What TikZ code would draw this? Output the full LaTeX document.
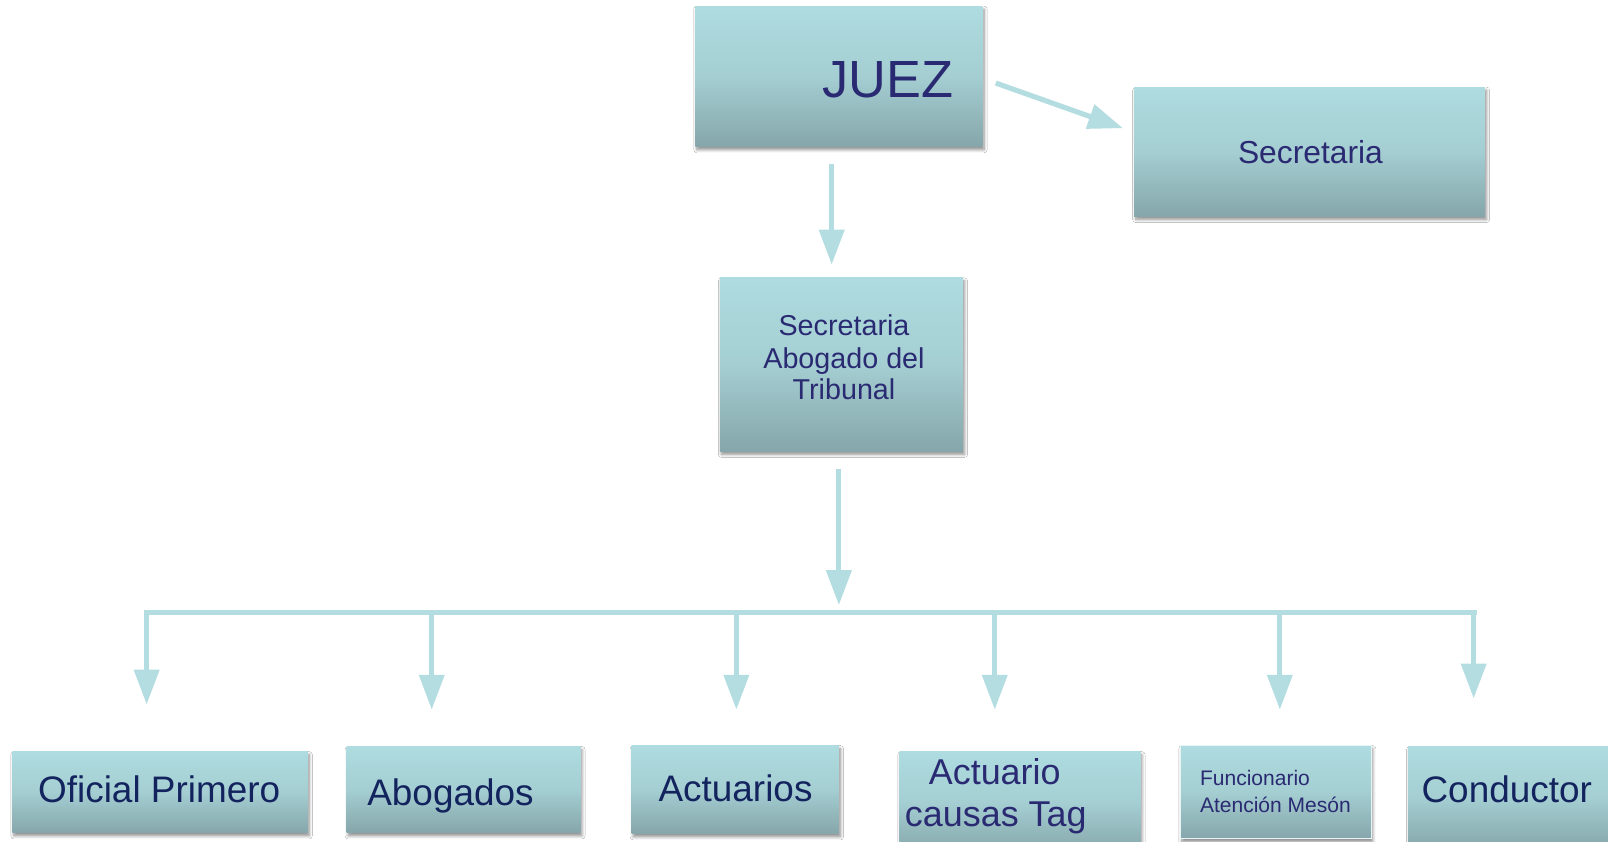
\documentclass[tikz,border=0pt]{standalone}
\usepackage{fontspec}
\setmainfont{Liberation Sans}
\usetikzlibrary{arrows.meta,shadows.blur}
\definecolor{boxtop}{HTML}{AEDCE0}
\definecolor{boxmid}{HTML}{A4CED2}
\definecolor{boxbot}{HTML}{85A6AA}
\definecolor{arrowc}{HTML}{B4DDE1}
\definecolor{txtA}{HTML}{2A2A72}
\definecolor{txtB}{HTML}{13235E}
\tikzset{
  box/.style={rectangle, inner sep=0pt, outer sep=0pt, anchor=north west,
    top color=boxtop, bottom color=boxbot, middle color=boxmid,
    blur shadow={shadow xshift=1.5pt, shadow yshift=-3pt, shadow blur radius=3pt, shadow blur steps=6, shadow opacity=45}},
  arr/.style={draw=arrowc, line width=5pt, -{Triangle[width=24pt,length=34pt]}},
  busline/.style={draw=arrowc, line width=5pt},
  txta/.style={inner sep=0pt, text=txtA},
  txtb/.style={inner sep=0pt, text=txtB},
}
\begin{document}
\begin{tikzpicture}[x=1pt,y=-1pt]
\useasboundingbox (0,0) rectangle (1568,821);
\fill[white] (0,0) rectangle (1568,821);
% boxes
\node[box, minimum width=280pt, minimum height=137pt] (juez) at (678,6) {};
\node[box, minimum width=342pt, minimum height=126pt] (secr) at (1106,85) {};
\node[box, minimum width=237pt, minimum height=169pt] (sab) at (702,271) {};
\node[box, minimum width=288pt, minimum height=79pt] (ofi) at (12,733) {};
\node[box, minimum width=228pt, minimum height=84pt] (abo) at (338,728) {};
\node[box, minimum width=202pt, minimum height=86pt] (act) at (616,727) {};
\node[box, minimum width=235pt, minimum height=100pt] (tag) at (877,733) {};
\node[box, minimum width=186pt, minimum height=91pt, draw=white!70!boxtop, line width=0.8pt] (fun) at (1151,727) {};
\node[box, minimum width=200pt, minimum height=100pt] (con) at (1373,728) {};
% texts
\node[txta, anchor=base west, font=\fontsize{51}{58}\selectfont] (tjuez) at (802,95) {JUEZ};
\node[txta, anchor=base west, font=\fontsize{31}{36}\selectfont] (tsecr) at (1207,159) {Secretaria};
\node[txta, anchor=base, font=\fontsize{28}{32}\selectfont] (tsab1) at (823,327) {Secretaria};
\node[txta, anchor=base, font=\fontsize{28}{32}\selectfont] (tsab2) at (823,359) {Abogado del};
\node[txta, anchor=base, font=\fontsize{28}{32}\selectfont] (tsab3) at (823,390) {Tribunal};
\node[txtb, anchor=base west, font=\fontsize{36}{41}\selectfont] (tofi) at (37,783) {Oficial Primero};
\node[txtb, anchor=base west, font=\fontsize{36}{41}\selectfont] (tabo) at (358,785) {Abogados};
\node[txtb, anchor=base west, font=\fontsize{36}{41}\selectfont] (tact) at (642,782) {Actuarios};
\node[txta, anchor=base, font=\fontsize{35}{41}\selectfont] (ttag1) at (970,765) {Actuario};
\node[txta, anchor=base, font=\fontsize{35}{41}\selectfont] (ttag2) at (971,806) {causas Tag};
\node[txta, anchor=base west, font=\fontsize{20.5}{26}\selectfont] (tfun1) at (1170,766) {Funcionario};
\node[txta, anchor=base west, font=\fontsize{20.5}{26}\selectfont] (tfun2) at (1170,792) {Atención Mesón};
\node[txtb, anchor=base west, font=\fontsize{36}{41}\selectfont] (tcon) at (1386,783) {Conductor};
% connector coordinates
\coordinate (j1) at (971,81);
\coordinate (j2) at (1095,125);
\coordinate (d1) at (811,160);
\coordinate (d2) at (811,258);
\coordinate (m1) at (818,457);
\coordinate (m2) at (818,590);
\coordinate (bL) at (143,597);
\coordinate (bR) at (1440,597);
\coordinate (b2) at (421,597);
\coordinate (b3) at (718,597);
\coordinate (b4) at (970,597);
\coordinate (b5) at (1248,597);
\coordinate (b6) at (1437,597);
\coordinate (e1) at (143,687);
\coordinate (e2) at (421,692);
\coordinate (e3) at (718,692);
\coordinate (e4) at (970,692);
\coordinate (e5) at (1248,692);
\coordinate (e6) at (1437,681);
% connectors
\draw[arr] (j1) -- (j2);
\draw[arr] (d1) -- (d2);
\draw[arr] (m1) -- (m2);
\draw[busline] (bL) -- (bR);
\draw[arr] ([yshift=2.5pt]bL) -- (e1);
\draw[arr] (b2) -- (e2);
\draw[arr] (b3) -- (e3);
\draw[arr] (b4) -- (e4);
\draw[arr] (b5) -- (e5);
\draw[arr] (b6) -- (e6);
\end{tikzpicture}
\end{document}
